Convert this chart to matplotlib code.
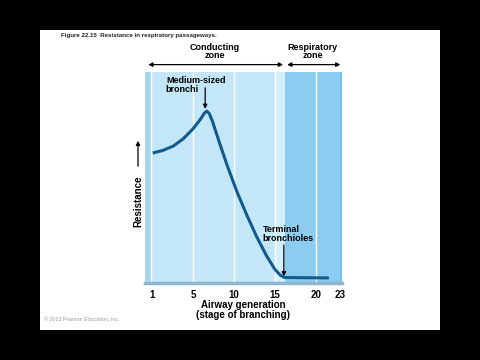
"""Figure 22.15 recreation: airway resistance vs. airway generation."""

import matplotlib
matplotlib.use('Agg')
import matplotlib.pyplot as plt
from matplotlib.patches import Rectangle, FancyArrowPatch

plt.rcParams['font.family'] = ['Liberation Sans', 'DejaVu Sans']
plt.rcParams['font.weight'] = 'bold'

# values
generation = [0.1, 1.3, 2.6, 3.8, 5.0, 5.9, 6.4, 6.7, 7.0, 7.4, 7.9, 8.5, 9.2, 10.4,
              11.6, 12.8, 14.0, 15.0, 15.7, 16.2, 21.6]
resistance = [61.6, 62.8, 64.9, 68.3, 73.0, 77.5, 80.5, 81.5, 80.3, 76.5, 70.5, 63.5, 55.5, 43.0,
              32.0, 21.8, 12.8, 6.5, 3.6, 2.6, 2.4]

tick_pos = [0, 5, 10, 15, 20, 23]
tick_labels = ['1', '5', '10', '15', '20', '23']
grid_lines = [-0.1, 5, 10, 15, 20]
conducting_end = 15.0
respiratory_start = 16.2

LIGHT = '#c3e7f8'
PALE = '#d2effc'
DARK = '#8bcdf0'
EDGE = '#a6d4ea'
CURVE = '#135a8e'

fig = plt.figure(figsize=(4.8, 3.6), dpi=100, facecolor='black')
fig.patches.append(Rectangle((40 / 480, 30 / 360), 400 / 480, 300 / 360,
                             transform=fig.transFigure, facecolor='white', edgecolor='none', zorder=-5))

ax = fig.add_axes([145 / 480, 1 - 283 / 360, 197 / 480, 211 / 360])
ax.set_xlim(-0.85, 23.2)
ax.set_ylim(0, 100)
ax.set_facecolor(LIGHT)

ax.axvspan(-0.85, -0.1, color=EDGE, lw=0)
ax.axvspan(conducting_end, respiratory_start, color=PALE, lw=0)
ax.axvspan(respiratory_start, 23.2, color=DARK, lw=0)
ax.axvspan(22.95, 23.2, color='#7cc0e6', lw=0)
for g in grid_lines:
    ax.axvline(g, color='white', lw=1.0)

ax.plot(generation, resistance, color=CURVE, lw=2.2, solid_joinstyle='round', solid_capstyle='butt')

for s in ['top', 'right', 'left']:
    ax.spines[s].set_visible(False)
ax.spines['bottom'].set_color('#8fb6cc')
ax.spines['bottom'].set_linewidth(2.5)

ax.set_xticks(tick_pos)
ax.set_xticklabels(tick_labels, fontsize=7, fontweight='bold')
ax.tick_params(axis='x', length=0, pad=5)
ax.set_yticks([])
ax.set_xlabel('Airway generation\n(stage of branching)', fontsize=7, fontweight='bold',
              labelpad=0, linespacing=1.0)

# zone labels and arrows
xt = ax.get_xaxis_transform()
ax.text(7.7, 1.055, 'Conducting\nzone', transform=xt, ha='center',
        va='bottom', fontsize=6.5, fontweight='bold', linespacing=0.95, clip_on=False)
ax.text(19.6, 1.055, 'Respiratory\nzone', transform=xt, ha='center',
        va='bottom', fontsize=6.5, fontweight='bold', linespacing=0.95, clip_on=False)
arrow_kw = dict(arrowstyle='<|-|>', color='black', lw=0.9, mutation_scale=6, shrinkA=0, shrinkB=0)
ax.annotate('', xy=(-0.45, 1.035), xytext=(16.0, 1.035), xycoords=xt,
            textcoords=xt, arrowprops=arrow_kw, annotation_clip=False)
ax.annotate('', xy=(16.5, 1.035), xytext=(23.0, 1.035), xycoords=xt,
            textcoords=xt, arrowprops=arrow_kw, annotation_clip=False)

down_kw = dict(arrowstyle='-|>', color='black', lw=0.9, mutation_scale=6, shrinkA=0, shrinkB=0)
ax.text(1.7, 98, 'Medium-sized\nbronchi', ha='left', va='top', fontsize=6.5,
        fontweight='bold', linespacing=0.95)
ax.annotate('', xy=(6.5, 82.5), xytext=(6.5, 92.5), arrowprops=down_kw)
ax.text(13.5, 27.5, 'Terminal\nbronchioles', ha='left', va='top', fontsize=6.5,
        fontweight='bold', linespacing=0.95)
ax.annotate('', xy=(16.1, 3.2), xytext=(16.1, 18.0), arrowprops=down_kw)

# y label with arrow
fig.text(138 / 480, 1 - 201 / 360, 'Resistance', rotation=90, ha='center', va='center',
         fontsize=7, fontweight='bold')
fig.patches.append(FancyArrowPatch(
    (138 / 480, 1 - 169 / 360), (138 / 480, 1 - 138 / 360), transform=fig.transFigure,
    arrowstyle='-|>', color='black', lw=0.9, mutation_scale=6))

fig.text(61 / 480, 1 - 36 / 360, 'Figure 22.15  Resistance in respiratory passageways.',
         ha='left', va='center', fontsize=4.4, fontweight='bold', color='#222222')
fig.text(44 / 480, 1 - 320 / 360, '\u00a9 2013 Pearson Education, Inc.', ha='left', va='center',
         fontsize=3.8, fontweight='normal', color='#9a9a9a')

fig.savefig('out.png', dpi=100, facecolor=fig.get_facecolor())
